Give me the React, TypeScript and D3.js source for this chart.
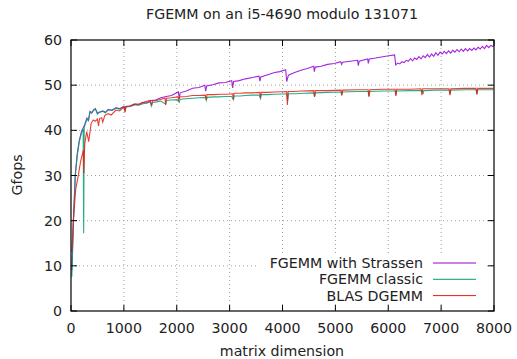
import React from 'react';
import { scaleLinear, line } from 'd3';

// matrix dimension -> Gfops
const strassen: [number, number][] = [
    [16, 9.0], [48, 21.0], [82, 30.5], [120, 35.0], [157, 37.8], [200, 39.8], [250, 41.0],
    [300, 42.7], [330, 42.3], [360, 44.2], [390, 43.8], [420, 44.4], [460, 44.8], [500, 43.8],
    [560, 44.1], [600, 44.3], [650, 44.0], [700, 44.6], [780, 44.5], [850, 45.0], [920, 44.8],
    [1000, 45.3], [1024, 44.6], [1040, 45.3], [1120, 45.4], [1200, 45.8], [1280, 45.6], [1350, 46.2],
    [1430, 46.0], [1500, 46.6], [1600, 46.7], [1700, 47.2], [1800, 47.5], [1900, 47.7], [2030, 48.5],
    [2048, 47.0], [2064, 48.3], [2180, 48.7], [2300, 49.3], [2420, 49.5], [2530, 50.0],
    [2548, 48.7], [2564, 49.8], [2680, 50.1], [2800, 50.5], [2920, 50.6], [3040, 51.0], [3058, 49.4],
    [3074, 50.8], [3180, 51.0], [3300, 51.4], [3430, 51.7], [3556, 52.0], [3574, 50.9], [3590, 51.8],
    [3720, 52.3], [3850, 52.8], [3950, 53.0], [4060, 53.4], [4080, 50.8], [4096, 51.5],
    [4112, 52.2], [4230, 52.8], [4350, 53.3], [4470, 53.7], [4590, 54.2], [4602, 53.0], [4620, 54.0],
    [4730, 54.2], [4850, 54.6], [4980, 54.8], [5100, 55.2], [5120, 54.6], [5136, 55.1], [5280, 55.3],
    [5420, 55.5], [5434, 54.3], [5450, 55.3], [5610, 55.8], [5623, 54.8], [5640, 55.8], [5760, 56.0],
    [5900, 56.3], [6010, 56.5], [6120, 56.7], [6141, 54.5], [6180, 54.9], [6220, 54.7], [6260, 55.2],
    [6300, 55.0], [6340, 55.5], [6380, 55.3], [6420, 55.9], [6460, 55.4], [6500, 56.0], [6540, 55.7],
    [6580, 56.3], [6620, 55.8], [6660, 56.5], [6700, 56.1], [6740, 56.8], [6780, 56.2], [6820, 56.9],
    [6860, 56.4], [6900, 57.2], [6940, 56.6], [6980, 57.3], [7020, 56.9], [7060, 57.5], [7100, 57.0],
    [7140, 57.6], [7180, 57.1], [7220, 57.7], [7260, 57.3], [7300, 57.9], [7340, 57.4], [7380, 58.0],
    [7420, 57.5], [7460, 58.1], [7500, 57.6], [7540, 58.1], [7580, 57.7], [7620, 58.2], [7660, 57.8],
    [7700, 58.4], [7740, 58.0], [7780, 58.6], [7820, 58.1], [7860, 58.8], [7900, 58.3], [7940, 58.8],
    [7990, 58.5],
];

const classic: [number, number][] = [
    [16, 7.6], [48, 20.0], [82, 30.1], [120, 34.5], [157, 37.5], [200, 39.5], [230, 40.3], [240, 17.2],
    [250, 40.6], [300, 42.5], [330, 42.1], [360, 44.1], [400, 44.0], [430, 44.5], [460, 44.7], [480, 44.3],
    [500, 43.6], [530, 44.0], [600, 44.2], [650, 43.9], [700, 44.5], [780, 44.4], [850, 44.9], [920, 44.7],
    [1000, 45.2], [1024, 44.4], [1040, 45.2], [1120, 45.3], [1200, 45.6], [1300, 45.7], [1400, 46.0],
    [1500, 46.2], [1520, 45.4], [1540, 46.2], [1620, 46.3], [1700, 46.5], [1790, 45.8],
    [1806, 46.6], [1900, 46.7], [2000, 46.8], [2048, 46.2], [2064, 46.9], [2180, 47.0], [2300, 47.1],
    [2420, 47.2], [2540, 47.3], [2560, 46.6], [2576, 47.3], [2700, 47.4], [2800, 47.4], [2920, 47.5],
    [3040, 47.5], [3072, 46.8], [3088, 47.6], [3200, 47.6], [3300, 47.7], [3430, 47.8], [3560, 47.8],
    [3584, 47.0], [3600, 47.9], [3720, 47.9], [3850, 48.0], [4080, 48.1], [4096, 46.4], [4112, 48.1],
    [4250, 48.1], [4400, 48.2], [4590, 48.3], [4608, 47.5], [4624, 48.3], [4850, 48.4], [5100, 48.5],
    [5120, 47.9], [5136, 48.5], [5400, 48.6], [5620, 48.6], [5632, 47.6], [5648, 48.6], [5900, 48.7],
    [6130, 48.7], [6144, 47.8], [6160, 48.7], [6400, 48.8], [6640, 48.8], [6656, 48.0], [6672, 48.8],
    [6900, 48.9], [7150, 48.9], [7168, 48.0], [7184, 48.9], [7450, 49.0], [7660, 49.0], [7680, 48.1],
    [7696, 49.0], [7990, 49.0],
];

const dgemm: [number, number][] = [
    [16, 13.1], [44, 20.1], [90, 27.0], [139, 30.1], [180, 33.0], [233, 35.6], [242, 30.5], [260, 37.0],
    [297, 39.7], [335, 37.5], [380, 41.5], [420, 42.3], [460, 42.0], [500, 42.5], [520, 41.0], [540, 42.6],
    [580, 42.8], [600, 41.8], [640, 43.3], [700, 43.7], [760, 43.4], [850, 44.5], [920, 44.3],
    [1000, 45.2], [1021, 44.0], [1040, 45.3], [1120, 45.4], [1200, 45.8], [1300, 45.9], [1400, 46.3],
    [1494, 46.6], [1526, 45.5], [1540, 46.6], [1620, 46.6], [1700, 46.9], [1778, 47.1], [1790, 45.6],
    [1806, 47.1], [1900, 47.2], [2024, 47.4], [2036, 46.5], [2052, 47.4], [2180, 47.5], [2300, 47.7],
    [2420, 47.7], [2540, 47.8], [2556, 46.8], [2572, 47.9], [2700, 47.9], [2818, 48.0], [2940, 48.0],
    [3058, 48.1], [3068, 46.9], [3084, 48.2], [3200, 48.2], [3300, 48.3], [3440, 48.3], [3570, 48.4],
    [3582, 47.3], [3598, 48.4], [3720, 48.4], [3850, 48.5], [4080, 48.6], [4092, 45.6], [4108, 48.6],
    [4230, 48.6], [4350, 48.7], [4590, 48.8], [4606, 47.4], [4622, 48.8], [4850, 48.8], [5110, 48.9],
    [5125, 47.8], [5140, 48.9], [5400, 49.0], [5620, 49.0], [5636, 47.4], [5652, 49.0], [5900, 49.1],
    [6130, 49.1], [6144, 47.6], [6160, 49.1], [6400, 49.1], [6620, 49.2], [6636, 47.8], [6652, 49.2],
    [6900, 49.2], [7150, 49.2], [7168, 47.8], [7184, 49.2], [7450, 49.3], [7660, 49.3], [7676, 47.9],
    [7692, 49.3], [7990, 49.3],
];

const series = [
    { name: 'FGEMM with Strassen', color: '#9400d3', data: strassen },
    { name: 'FGEMM classic', color: '#009e73', data: classic },
    { name: 'BLAS DGEMM', color: '#e51e10', data: dgemm },
];

const xTicks = [0, 1000, 2000, 3000, 4000, 5000, 6000, 7000, 8000];
const yTicks = [0, 10, 20, 30, 40, 50, 60];

const W = 517;
const H = 359;
const left = 71;
const right = 494;
const top = 40;
const bottom = 311;
const font = 'DejaVu Sans, sans-serif';
const fs = 14.2;

export default function App() {
    const x = scaleLinear().domain([0, 8000]).range([left, right]);
    const y = scaleLinear().domain([0, 60]).range([bottom, top]);
    const path = line<[number, number]>()
        .x((d) => x(d[0]))
        .y((d) => y(d[1]));
    const tick = 6;

    return (
        <svg width={W} height={H} style={{ position: 'absolute', left: 0, top: 0, background: '#fff' }}
            fontFamily={font} fontSize={fs} fill="#222">
            {/* grid */}
            {xTicks.slice(1, -1).map((t) => (
                <line key={'gx' + t} x1={x(t)} x2={x(t)} y1={top} y2={bottom}
                    stroke="#a0a0a0" strokeWidth={1} strokeDasharray="1,3" />
            ))}
            {yTicks.slice(1, -1).map((t) => (
                <line key={'gy' + t} x1={left} x2={right} y1={y(t)} y2={y(t)}
                    stroke="#a0a0a0" strokeWidth={1} strokeDasharray="1,3" />
            ))}

            {/* data */}
            {series.map((s) => (
                <path key={s.name} d={path(s.data) as string} fill="none" stroke={s.color}
                    strokeWidth={1.1} strokeOpacity={0.85} />
            ))}

            {/* legend, white background over the grid */}
            <rect x={258} y={254} width={226} height={50} fill="#fff" />
            {series.map((s, i) => {
                const ly = 263 + i * 16.3;
                return (
                    <g key={'lg' + s.name}>
                        <text x={423} y={ly} dy="0.35em" textAnchor="end">{s.name}</text>
                        <line x1={433} x2={476} y1={ly} y2={ly} stroke={s.color} strokeWidth={1} />
                    </g>
                );
            })}

            {/* ticks on all four sides */}
            {xTicks.map((t) => (
                <g key={'tx' + t}>
                    <line x1={x(t)} x2={x(t)} y1={bottom} y2={bottom - tick} stroke="#000" />
                    <line x1={x(t)} x2={x(t)} y1={top} y2={top + tick} stroke="#000" />
                    <text x={x(t)} y={333} textAnchor="middle">{t}</text>
                </g>
            ))}
            {yTicks.map((t) => (
                <g key={'ty' + t}>
                    <line x1={left} x2={left + tick} y1={y(t)} y2={y(t)} stroke="#000" />
                    <line x1={right} x2={right - tick} y1={y(t)} y2={y(t)} stroke="#000" />
                    <text x={62} y={y(t)} dy="0.36em" textAnchor="end">{t}</text>
                </g>
            ))}

            {/* frame */}
            <rect x={left} y={top} width={right - left} height={bottom - top} fill="none" stroke="#000" strokeWidth={1.2} />

            <text x={282} y={19} textAnchor="middle">FGEMM on an i5-4690 modulo 131071</text>
            <text x={282} y={356} textAnchor="middle">matrix dimension</text>
            <text transform={`translate(22,175) rotate(-90)`} textAnchor="middle">Gfops</text>
        </svg>
    );
}
